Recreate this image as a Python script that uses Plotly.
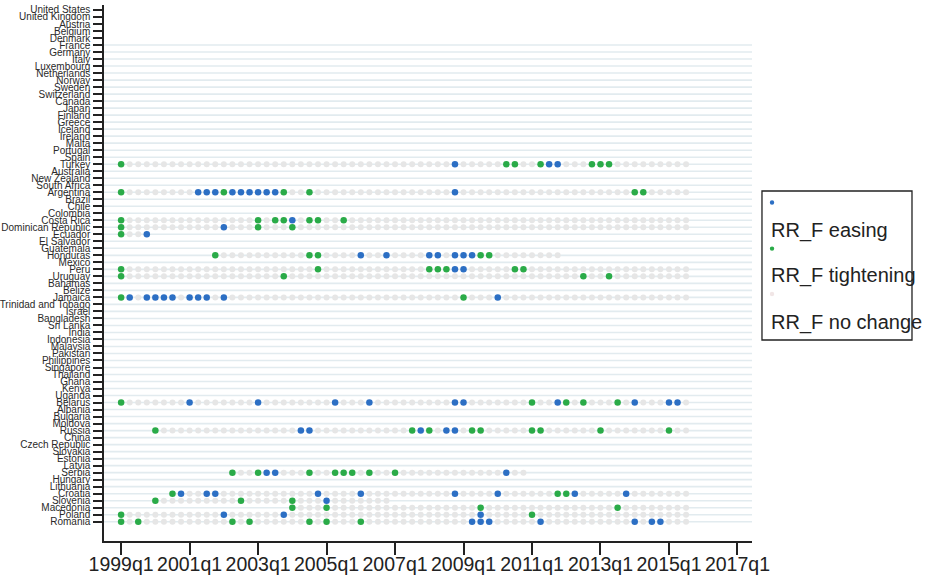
import plotly.graph_objects as go

# ---------------- data ----------------
countries = [
    "United States", "United Kingdom", "Austria", "Belgium", "Denmark", "France",
    "Germany", "Italy", "Luxembourg", "Netherlands", "Norway", "Sweden",
    "Switzerland", "Canada", "Japan", "Finland", "Greece", "Iceland", "Ireland",
    "Malta", "Portugal", "Spain", "Turkey", "Australia", "New Zealand",
    "South Africa", "Argentina", "Brazil", "Chile", "Colombia", "Costa Rica",
    "Dominican Republic", "Ecuador", "El Salvador", "Guatemala", "Honduras",
    "Mexico", "Peru", "Uruguay", "Bahamas", "Belize", "Jamaica",
    "Trinidad and Tobago", "Israel", "Bangladesh", "Sri Lanka", "India",
    "Indonesia", "Malaysia", "Pakistan", "Philippines", "Singapore", "Thailand",
    "Ghana", "Kenya", "Uganda", "Belarus", "Albania", "Bulgaria", "Moldova",
    "Russia", "China", "Czech Republic", "Slovakia", "Estonia", "Latvia",
    "Serbia", "Hungary", "Lithuania", "Croatia", "Slovenia", "Macedonia",
    "Poland", "Romania",
]

x_tick_labels = ["1999q1", "2001q1", "2003q1", "2005q1", "2007q1",
                 "2009q1", "2011q1", "2013q1", "2015q1", "2017q1"]

# sample period per country (first, last quarter)
span_start = {
    "Turkey": "1999q1", "Argentina": "1999q1", "Costa Rica": "1999q1",
    "Dominican Republic": "1999q1", "Ecuador": "1999q1", "Honduras": "2001q4",
    "Peru": "1999q1", "Uruguay": "1999q1", "Jamaica": "1999q1",
    "Belarus": "1999q1", "Russia": "2000q1", "Serbia": "2002q2",
    "Croatia": "2000q3", "Slovenia": "2000q1", "Macedonia": "2004q1",
    "Poland": "1999q1", "Romania": "1999q1",
}
span_end = {
    "Turkey": "2015q3", "Argentina": "2015q3", "Costa Rica": "2015q3",
    "Dominican Republic": "2015q3", "Ecuador": "1999q4", "Honduras": "2011q4",
    "Peru": "2015q3", "Uruguay": "2015q3", "Jamaica": "2015q3",
    "Belarus": "2015q3", "Russia": "2015q3", "Serbia": "2010q4",
    "Croatia": "2015q3", "Slovenia": "2006q4", "Macedonia": "2015q3",
    "Poland": "2015q3", "Romania": "2015q3",
}

easing = {
    "Turkey": ["2008q4", "2011q3", "2011q4"],
    "Argentina": ["2001q2", "2001q3", "2001q4", "2002q2", "2002q3", "2002q4",
                  "2003q1", "2003q2", "2003q3", "2008q4"],
    "Costa Rica": ["2004q1"],
    "Dominican Republic": ["2002q1"],
    "Ecuador": ["1999q4"],
    "Honduras": ["2006q1", "2006q4", "2008q1", "2008q2", "2008q4", "2009q1", "2009q2"],
    "Peru": ["2008q4", "2009q1"],
    "Uruguay": [],
    "Jamaica": ["1999q2", "1999q4", "2000q1", "2000q2", "2000q3", "2001q1",
                "2001q2", "2001q3", "2002q1", "2010q1"],
    "Belarus": ["2001q1", "2003q1", "2005q2", "2006q2", "2008q4", "2009q1",
                "2011q4", "2014q1", "2015q1", "2015q2"],
    "Russia": ["2004q2", "2004q3", "2007q4", "2008q3", "2008q4"],
    "Serbia": ["2003q2", "2003q3", "2010q2"],
    "Croatia": ["2000q4", "2001q3", "2001q4", "2004q4", "2006q1", "2008q4",
                "2010q1", "2012q2", "2013q4"],
    "Slovenia": ["2005q1"],
    "Macedonia": [],
    "Poland": ["2002q1", "2003q4", "2009q3"],
    "Romania": ["2009q2", "2009q3", "2009q4", "2011q2", "2014q1", "2014q3", "2014q4"],
}

tightening = {
    "Turkey": ["1999q1", "2010q2", "2010q3", "2011q2", "2012q4", "2013q1", "2013q2"],
    "Argentina": ["1999q1", "2002q1", "2003q4", "2004q3", "2014q1", "2014q2"],
    "Costa Rica": ["1999q1", "2003q1", "2003q3", "2003q4", "2004q3", "2004q4", "2005q3"],
    "Dominican Republic": ["1999q1", "2003q1", "2004q1"],
    "Ecuador": ["1999q1"],
    "Honduras": ["2001q4", "2004q3", "2004q4", "2009q3", "2009q4"],
    "Peru": ["1999q1", "2004q4", "2008q1", "2008q2", "2008q3", "2010q3", "2010q4"],
    "Uruguay": ["1999q1", "2003q4", "2012q3", "2013q2"],
    "Jamaica": ["1999q1", "2009q1"],
    "Belarus": ["1999q1", "2011q1", "2012q1", "2012q3", "2013q3"],
    "Russia": ["2000q1", "2007q3", "2008q1", "2009q2", "2009q3", "2011q1",
               "2011q2", "2013q1", "2015q1"],
    "Serbia": ["2002q2", "2003q1", "2004q3", "2005q2", "2005q3", "2005q4",
               "2006q2", "2007q1"],
    "Croatia": ["2000q3", "2011q4", "2012q1"],
    "Slovenia": ["2000q1", "2002q3", "2004q1"],
    "Macedonia": ["2004q1", "2005q1", "2009q3", "2013q3"],
    "Poland": ["1999q1", "2011q1"],
    "Romania": ["1999q1", "1999q3", "2002q2", "2002q4", "2004q3", "2005q1", "2006q1"],
}

# ---------------- helpers ----------------
def qnum(label):
    y, q = label.split("q")
    return (int(y) - 1999) * 4 + int(q) - 1

def qlabel(n):
    return f"{1999 + n // 4}q{n % 4 + 1}"

nc_x, nc_y, e_x, e_y, t_x, t_y = [], [], [], [], [], []
for c in span_start:
    for n in range(qnum(span_start[c]), qnum(span_end[c]) + 1):
        lab = qlabel(n)
        if lab in easing[c]:
            e_x.append(n); e_y.append(c)
        elif lab in tightening[c]:
            t_x.append(n); t_y.append(c)
        else:
            nc_x.append(n); nc_y.append(c)

BLUE = "#2c6fc4"
GREEN = "#2aab48"
GRAY = "#e6e6e6"
FONT = "Liberation Sans, Arial, sans-serif"

fig = go.Figure()
fig.add_trace(go.Scatter(x=nc_x, y=nc_y, mode="markers", name="RR_F no change",
                         marker=dict(color=GRAY, size=6, line=dict(width=0))))
fig.add_trace(go.Scatter(x=e_x, y=e_y, mode="markers", name="RR_F easing",
                         marker=dict(color=BLUE, size=6.5, line=dict(width=0))))
fig.add_trace(go.Scatter(x=t_x, y=t_y, mode="markers", name="RR_F tightening",
                         marker=dict(color=GREEN, size=6.5, line=dict(width=0))))

# row grid lines (drawn from France downward, as in the original)
shapes = []
for c in countries[countries.index("France"):]:
    shapes.append(dict(type="line", xref="x domain", yref="y", x0=0, x1=1,
                       y0=c, y1=c, layer="below",
                       line=dict(color="#e2ebef", width=1.6)))

# manual legend box
shapes.append(dict(type="rect", xref="paper", yref="paper",
                   x0=1.0154, x1=1.2469, y0=0.375, y1=0.653,
                   line=dict(color="#222222", width=1.3), fillcolor="white"))
for yy, col in [(0.6315, BLUE), (0.5455, GREEN), (0.4608, "#f1e6e6")]:
    shapes.append(dict(type="circle", xref="paper", yref="paper",
                       xsizemode="pixel", ysizemode="pixel",
                       xanchor=1.0309, yanchor=yy,
                       x0=-2.2, x1=2.2, y0=-2.2, y1=2.2,
                       line=dict(width=0), fillcolor=col))

annotations = []
for yy, txt in [(0.5793, "RR_F easing"), (0.4950, "RR_F tightening"),
                (0.4075, "RR_F no change")]:
    annotations.append(dict(xref="paper", yref="paper", x=1.0255, y=yy,
                            xanchor="left", yanchor="middle", text=txt,
                            showarrow=False,
                            font=dict(family=FONT, size=20, color="#222222")))

fig.update_layout(
    width=930, height=582,
    margin=dict(l=104, r=178, t=5, b=41, pad=0, autoexpand=False),
    paper_bgcolor="white", plot_bgcolor="white",
    showlegend=False,
    shapes=shapes, annotations=annotations,
    font=dict(family=FONT, color="#222222"),
)

fig.update_xaxes(
    automargin=False,
    range=[-2, 73.7],
    tickmode="array",
    tickvals=[qnum(t) for t in x_tick_labels],
    ticktext=x_tick_labels,
    ticks="outside", ticklen=12, tickwidth=1.5, tickcolor="#222222",
    ticklabelstandoff=-7,
    showline=True, linecolor="#222222", linewidth=1.5,
    showgrid=False, zeroline=False,
    tickfont=dict(family=FONT, size=19.5, color="#222222"),
)
fig.update_yaxes(
    automargin=False,
    type="category",
    categoryorder="array", categoryarray=countries,
    tickmode="array", tickvals=countries, ticktext=countries,
    range=[75.75, -0.71],
    ticks="outside", ticklen=9, tickwidth=1.5, tickcolor="#222222",
    ticklabelstandoff=1,
    showline=True, linecolor="#222222", linewidth=1.5,
    showgrid=False, zeroline=False,
    tickfont=dict(family=FONT, size=10, color="#2a2a2a"),
)

fig.write_html("out.html", config={"displayModeBar": False},
               post_script="document.body.style.margin='0px';document.body.style.overflow='hidden';")
